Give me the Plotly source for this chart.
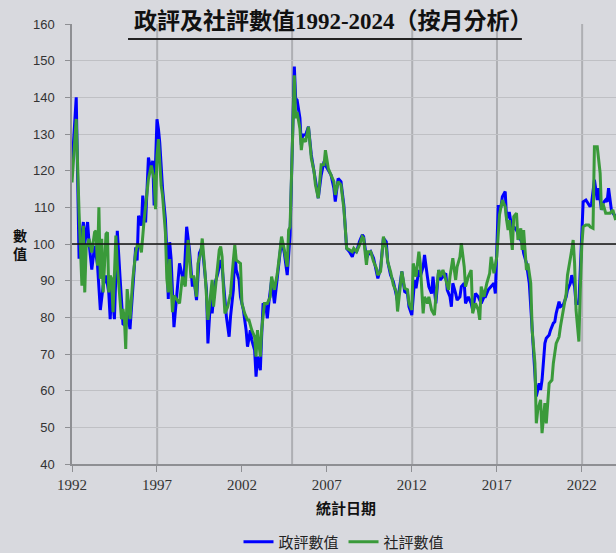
import plotly.graph_objects as go

# ---- data ----
gov_dates = [
    "1992-01", "1992-04", "1992-06", "1992-09", "1992-10", "1992-12", "1993-01", "1993-03", "1993-05", "1993-07",
    "1993-09", "1993-11", "1994-01", "1994-03", "1994-04", "1994-05", "1994-07", "1994-09", "1994-11", "1995-01",
    "1995-03", "1995-04", "1995-06", "1995-08", "1995-10", "1995-11", "1995-12", "1996-02", "1996-03", "1996-05",
    "1996-06", "1996-07", "1996-09", "1996-10", "1996-11", "1997-01", "1997-02", "1997-03", "1997-05", "1997-07",
    "1997-08", "1997-09", "1997-10", "1997-11", "1998-01", "1998-03", "1998-05", "1998-08", "1998-10", "1998-12",
    "1999-02", "1999-03", "1999-05", "1999-07", "1999-09", "1999-10", "1999-12", "2000-01", "2000-03", "2000-04",
    "2000-06", "2000-08", "2000-10", "2000-11", "2001-01", "2001-02", "2001-04", "2001-05", "2001-07", "2001-08",
    "2001-09", "2001-11", "2001-12", "2002-02", "2002-04", "2002-05", "2002-07", "2002-08", "2002-10", "2002-11",
    "2002-12", "2003-02", "2003-03", "2003-04", "2003-06", "2003-07", "2003-08", "2003-10", "2003-12", "2004-02",
    "2004-04", "2004-05", "2004-07", "2004-09", "2004-11", "2005-02", "2005-03", "2005-04", "2005-06", "2005-07",
    "2005-08", "2005-10", "2005-12", "2006-02", "2006-04", "2006-05", "2006-07", "2006-09", "2006-11", "2006-12",
    "2007-02", "2007-04", "2007-06", "2007-07", "2007-09", "2007-11", "2008-01", "2008-02", "2008-03", "2008-05",
    "2008-07", "2008-08", "2008-10", "2008-12", "2009-02", "2009-03", "2009-05", "2009-06", "2009-08", "2009-10",
    "2009-12", "2010-01", "2010-03", "2010-05", "2010-07", "2010-08", "2010-10", "2010-12", "2011-02", "2011-03",
    "2011-05", "2011-06", "2011-08", "2011-10", "2011-11", "2012-01", "2012-03", "2012-04", "2012-06", "2012-07",
    "2012-09", "2012-10", "2012-12", "2013-01", "2013-03", "2013-04", "2013-06", "2013-08", "2013-09", "2013-11",
    "2014-01", "2014-02", "2014-04", "2014-05", "2014-06", "2014-08", "2014-09", "2014-11", "2014-12", "2015-02",
    "2015-03", "2015-05", "2015-07", "2015-08", "2015-10", "2015-12", "2016-02", "2016-04", "2016-05", "2016-07",
    "2016-09", "2016-11", "2016-12", "2017-02", "2017-04", "2017-05", "2017-07", "2017-08", "2017-09", "2017-10",
    "2017-12", "2018-01", "2018-03", "2018-05", "2018-07", "2018-08", "2018-10", "2018-12", "2019-02", "2019-04",
    "2019-05", "2019-07", "2019-08", "2019-09", "2019-11", "2019-12", "2020-02", "2020-03", "2020-05", "2020-06",
    "2020-07", "2020-09", "2020-10", "2020-12", "2021-02", "2021-03", "2021-05", "2021-06", "2021-08", "2021-09",
    "2021-11", "2021-12", "2022-02", "2022-04", "2022-05", "2022-07", "2022-08", "2022-10", "2022-12", "2023-01",
    "2023-03", "2023-04", "2023-06", "2023-07", "2023-08", "2023-10", "2023-11", "2024-01",
]
gov_values = [
    121, 140, 96, 106, 100, 106, 100.5, 93, 99.5, 94.5,
    82, 88.6, 91.4, 86.8, 79.5, 87.7, 79.5, 103.6, 90.5, 78.2,
    77.7, 81.4, 76.8, 86.8, 99.1, 95.5, 107.7, 105, 113.2, 105.9,
    115, 123.6, 119.5, 122.7, 110.5, 134, 131.4, 127.7, 115, 106.8,
    97.7, 85, 100.5, 95.9, 77.3, 86.8, 94.7, 89.3, 104.7, 98.4,
    88.4, 91.1, 84.7, 97.5, 99.3, 95.6, 87.5, 72.9, 85.6, 81.1,
    89.3, 92, 95.6, 93.8, 83.8, 80.2, 74.7, 80.2, 87.5, 98.4,
    92.9, 90.2, 85.6, 82, 76.5, 72, 76.5, 73.8, 71.1, 63.8,
    69.3, 65.6, 74.7, 83.8, 82.9, 79.7, 83.8, 90.2, 83.8, 90.2,
    96.5, 101.1, 97.5, 91.5, 102.5, 148.4, 139.7, 139.3, 134.3, 127,
    129.7, 129.7, 132, 124.3, 119.7, 117, 112.5, 118.8, 122.5, 121.5,
    120.2, 118.8, 115.2, 111.6, 117.9, 117, 110.6, 104.3, 98.8, 97.9,
    96.5, 97.9, 97.9, 100.6, 102.5, 102, 96.1, 97, 97.9, 96.1,
    92.5, 90.6, 93.4, 101.6, 100.6, 95.2, 91.5, 89.7, 86.1, 84.3,
    89.7, 92.5, 87, 86.5, 82.9, 80.6, 90.2, 87.9, 92.9, 91.1,
    93.8, 97, 91.1, 88.4, 86.5, 91.1, 83.8, 92.9, 90.2, 91.1,
    92, 87.5, 85.6, 82.9, 89.3, 86.5, 84.7, 85.6, 88.4, 89.3,
    83.8, 85.6, 83.8, 82, 86.5, 85.6, 83.8, 85.6, 85.6, 87.5,
    88.4, 89.3, 86.5, 110.2, 110.2, 112.9, 114.3, 106.5, 108.4, 108.4,
    103.5, 104.7, 103.8, 102, 100.2, 97.5, 94.7, 89.3, 76.5, 64.7,
    58.4, 62, 60.2, 62.9, 72.9, 74.3, 75.2, 76.5, 78.4, 78.8,
    81.1, 84.3, 82.9, 83.4, 85.6, 87.5, 89.3, 91.5, 88.4, 83.8,
    83.8, 92.9, 111.5, 112, 111.5, 110.2, 111.1, 117.5, 112, 115.2,
    109.3, 111.1, 112, 111.5, 115.2, 109.3, 108.4, 107.5,
]

soc_dates = [
    "1992-01", "1992-04", "1992-06", "1992-08", "1992-09", "1992-10", "1992-11", "1992-12", "1993-01", "1993-03",
    "1993-05", "1993-06", "1993-07", "1993-08", "1993-09", "1993-10", "1993-11", "1994-01", "1994-02", "1994-03",
    "1994-04", "1994-05", "1994-06", "1994-08", "1994-09", "1994-12", "1995-01", "1995-02", "1995-03", "1995-04",
    "1995-06", "1995-07", "1995-08", "1995-10", "1995-11", "1996-01", "1996-02", "1996-04", "1996-05", "1996-07",
    "1996-09", "1996-10", "1996-11", "1996-12", "1997-01", "1997-02", "1997-03", "1997-04", "1997-05", "1997-07",
    "1997-08", "1997-09", "1997-10", "1997-12", "1998-01", "1998-05", "1998-07", "1998-09", "1998-11", "1999-01",
    "1999-03", "1999-05", "1999-06", "1999-08", "1999-09", "1999-11", "2000-01", "2000-04", "2000-05", "2000-07",
    "2000-09", "2000-10", "2000-11", "2000-12", "2001-01", "2001-03", "2001-05", "2001-07", "2001-08", "2001-09",
    "2001-12", "2002-01", "2002-03", "2002-05", "2002-06", "2002-08", "2002-10", "2002-11", "2002-12", "2003-02",
    "2003-03", "2003-05", "2003-07", "2003-09", "2003-10", "2003-12", "2004-02", "2004-04", "2004-05", "2004-07",
    "2004-09", "2004-10", "2004-11", "2005-02", "2005-03", "2005-04", "2005-06", "2005-07", "2005-08", "2005-10",
    "2005-12", "2006-02", "2006-04", "2006-05", "2006-07", "2006-09", "2006-11", "2006-12", "2007-02", "2007-04",
    "2007-06", "2007-07", "2007-09", "2007-11", "2008-01", "2008-02", "2008-03", "2008-05", "2008-07", "2008-08",
    "2008-10", "2008-12", "2009-02", "2009-03", "2009-05", "2009-06", "2009-08", "2009-10", "2009-12", "2010-01",
    "2010-03", "2010-05", "2010-07", "2010-08", "2010-10", "2010-12", "2011-02", "2011-03", "2011-05", "2011-06",
    "2011-08", "2011-10", "2011-11", "2012-01", "2012-02", "2012-04", "2012-06", "2012-07", "2012-09", "2012-10",
    "2012-12", "2013-01", "2013-03", "2013-05", "2013-06", "2013-08", "2013-09", "2013-11", "2014-01", "2014-03",
    "2014-04", "2014-06", "2014-08", "2014-09", "2014-11", "2014-12", "2015-02", "2015-03", "2015-05", "2015-07",
    "2015-08", "2015-10", "2015-12", "2016-01", "2016-02", "2016-04", "2016-06", "2016-08", "2016-09", "2016-11",
    "2017-01", "2017-03", "2017-05", "2017-07", "2017-08", "2017-09", "2017-10", "2017-12", "2018-01", "2018-03",
    "2018-04", "2018-06", "2018-07", "2018-08", "2018-10", "2018-11", "2019-01", "2019-02", "2019-04", "2019-05",
    "2019-06", "2019-08", "2019-09", "2019-11", "2019-12", "2020-01", "2020-02", "2020-04", "2020-05", "2020-07",
    "2020-09", "2020-10", "2020-12", "2021-02", "2021-03", "2021-05", "2021-06", "2021-07", "2021-08", "2021-09",
    "2021-11", "2021-12", "2022-01", "2022-02", "2022-04", "2022-06", "2022-07", "2022-09", "2022-10", "2022-12",
    "2023-01", "2023-02", "2023-03", "2023-04", "2023-06", "2023-07", "2023-09", "2023-11", "2023-12", "2024-01",
]
soc_values = [
    116.8, 134.1, 108.6, 88.6, 105, 86.8, 99.5, 99.5, 101.4, 97.7,
    103.2, 103.6, 94.1, 110, 90.5, 101.4, 86.8, 102.7, 103.2, 86.8,
    91.4, 90.5, 81.4, 102.3, 94.1, 79.5, 82.3, 79.5, 71.4, 87.7,
    79.5, 86.8, 90.5, 97.7, 99.5, 99.5, 97.7, 106.8, 110.5, 117.7,
    121.4, 119.5, 117.7, 109.5, 124.1, 128.6, 122.3, 115.9, 113.2, 103.2,
    90.5, 86.8, 95.9, 81.4, 85.9, 83.8, 91.1, 88.4, 101.1, 91.1,
    91.1, 85.6, 94.7, 97.5, 101.5, 92, 79.3, 90.2, 82.9, 91.1,
    98.4, 99.3, 96.5, 87.5, 81.1, 82.9, 86.5, 95.6, 99.7, 95.6,
    94.7, 83.8, 81.1, 79.3, 79.3, 76.5, 74.7, 69.3, 76.5, 69.3,
    76.5, 83.8, 83.8, 85.6, 91.1, 87.5, 92, 98.4, 102, 98.4,
    93.8, 103.8, 104.7, 146, 134.3, 136, 131.5, 125.6, 128.8, 127.9,
    132, 123.4, 119.7, 116.1, 112.5, 121.6, 121.6, 125.6, 120.6, 118.8,
    117, 113.4, 117, 116.1, 109.7, 104.3, 98.8, 98.4, 97.9, 98.8,
    97.9, 99.7, 102, 101.6, 94.3, 97.9, 97.9, 95.2, 93.4, 91.5,
    92.5, 102, 98.8, 95.2, 92.5, 88.8, 87, 81.6, 87.9, 92.5,
    87.9, 87.5, 83.8, 82, 94.7, 91.1, 97.9, 94.7, 81.1, 85.6,
    83.8, 85.6, 82, 80.6, 85.6, 92.9, 91.1, 92.9, 90.2, 87.5,
    91.1, 96.1, 90.2, 93.8, 96.5, 100.2, 93.8, 88.4, 91.1, 92.9,
    81.1, 83.8, 82, 79.3, 88.4, 85.6, 89.3, 92, 96.5, 92,
    96.5, 108, 112, 110.2, 106.5, 103.8, 106.5, 98.4, 107.5, 108.4,
    101.1, 104.3, 98.4, 103.8, 92.9, 94.7, 89.3, 76.5, 67.5, 51.1,
    54.7, 57.5, 48.4, 56.6, 51.1, 58.4, 62, 62.9, 67.5, 72.9,
    74.7, 77.5, 82, 86.5, 91.5, 95.6, 98.4, 101.1, 94.7, 82,
    73.4, 87.5, 99.3, 104.7, 105.2, 105.2, 104.7, 104.3, 126.5, 126.5,
    122.9, 119.3, 109.3, 111.1, 108.4, 108.4, 108.4, 109.3, 107.9, 106.5,
]

series_names = ["政評數值", "社評數值"]
tick_years = [1992, 1997, 2002, 2007, 2012, 2017, 2022]
era_lines = ["1997-01-05", "2004-12-15", "2012-01-10", "2017-01-05", "2022-01-10"]
baseline = 100

title_text = "政評及社評數值1992-2024（按月分析）"
x_title = "統計日期"
y_title = "數<br>值"

# ---- figure ----
BG = "#d8d9de"
fig = go.Figure()
fig.add_trace(go.Scatter(x=gov_dates, y=gov_values, name=series_names[0], mode="lines",
                         line=dict(color="#0000ff", width=3)))
fig.add_trace(go.Scatter(x=soc_dates, y=soc_values, name=series_names[1], mode="lines",
                         line=dict(color="#3a9a3a", width=3)))

shapes = []
for d in era_lines:
    shapes.append(dict(type="line", xref="x", yref="paper", x0=d, x1=d, y0=0, y1=1,
                       line=dict(color="#aeafb3", width=2), layer="below"))
shapes.append(dict(type="line", xref="paper", yref="y", x0=0, x1=1, y0=baseline, y1=baseline,
                   line=dict(color="#111111", width=1.5), layer="above"))
# title underline
shapes.append(dict(type="line", xref="paper", yref="paper", x0=0.103, x1=0.827, y0=0.966, y1=0.966,
                   line=dict(color="#222222", width=2)))

annotations = [
    dict(text="<b>%s</b>" % x_title, xref="paper", yref="paper", x=0.503, y=-0.098,
         showarrow=False, xanchor="center", yanchor="middle",
         font=dict(family="Noto Sans CJK TC", size=15, color="#111111")),
    dict(text="<b>%s</b>" % y_title, xref="paper", yref="paper", x=-0.095,
         y=(464 - 244) / 440.0, showarrow=False, xanchor="center", yanchor="middle",
         font=dict(family="Noto Sans CJK TC", size=14, color="#111111")),
]

fig.update_layout(
    width=616, height=553,
    paper_bgcolor=BG, plot_bgcolor=BG,
    margin=dict(l=72, r=0, t=24, b=89),
    title=dict(text="<b>%s</b>" % title_text, xref="container", yref="container",
               x=0.541, y=0.963, xanchor="center", yanchor="middle",
               font=dict(family="Liberation Serif, Noto Sans CJK TC", size=23, color="#111111")),
    showlegend=True,
    legend=dict(orientation="h", xref="paper", yref="container", x=0.5, y=0.02,
                xanchor="center", yanchor="middle", itemwidth=30, bgcolor="rgba(0,0,0,0)",
                font=dict(family="Noto Sans CJK TC", size=15, color="#222222")),
    shapes=shapes,
    annotations=annotations,
)
fig.update_xaxes(
    type="date", range=["1992-01-01", "2024-01-08"],
    tickvals=["%d-01-01" % y for y in tick_years], ticktext=[str(y) for y in tick_years],
    showgrid=False, zeroline=False, showline=True, linecolor="#8e8f93", linewidth=1.5,
    ticks="outside", ticklen=6, tickcolor="#8e8f93",
    tickfont=dict(family="Liberation Serif", size=15, color="#333333"),
)
fig.update_yaxes(
    range=[40, 160], dtick=10, showgrid=True, gridcolor="#bfc0c4", gridwidth=1,
    zeroline=False, showline=True, linecolor="#8e8f93", linewidth=1.5,
    ticks="outside", ticklen=5, tickcolor="#8e8f93", ticklabelstandoff=8,
    tickfont=dict(family="Liberation Sans", size=13, color="#333333"),
)

fig.write_html("out.html", config={"displayModeBar": False},
               post_script="document.body.style.margin='0';document.body.style.background='%s';" % BG)
